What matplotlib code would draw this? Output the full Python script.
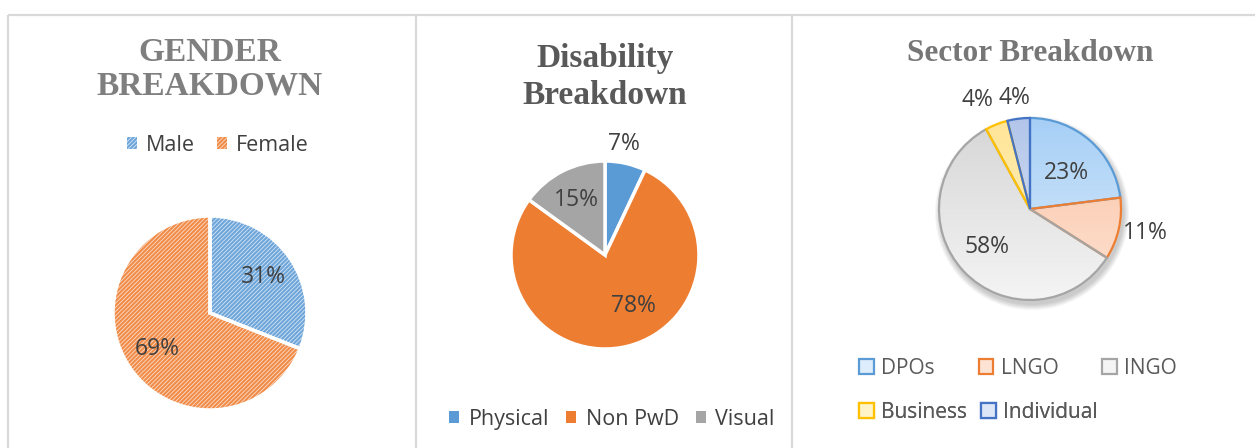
import numpy as np
import matplotlib.pyplot as plt
from matplotlib.patches import Patch, Circle
from matplotlib.colors import LinearSegmentedColormap

# chart data
gender_labels = ['Male', 'Female']
gender_values = [31, 69]

disability_labels = ['Physical', 'Non PwD', 'Visual']
disability_values = [7, 78, 15]

sector_labels = ['DPOs', 'LNGO', 'INGO', 'Business', 'Individual']
sector_values = [23, 11, 58, 4, 4]

W, H = 1255, 448
plt.rcParams['font.family'] = ['Open Sans', 'DejaVu Sans']
plt.rcParams['hatch.linewidth'] = 1.5

fig = plt.figure(figsize=(W / 100, H / 100), dpi=100)
ax = fig.add_axes([0, 0, 1, 1])

TXT = '#404040'
SERIF = ['Liberation Serif', 'DejaVu Serif']
LBL = 16.5


def py(y):
    # pixel row (from top) -> data y
    return H - y


def place_labels(wedges, values, cx, cy, r, dist, shift, size=LBL):
    for w, v, d, s in zip(wedges, values, dist, shift):
        th = np.radians((w.theta1 + w.theta2) / 2 + s)
        ax.text(cx + r * d * np.cos(th), cy + r * d * np.sin(th), f'{v}%',
                ha='center', va='center', fontsize=size, color=TXT)


def add_legend(handles, labels, anchor, **kw):
    opts = dict(loc='center', bbox_to_anchor=anchor, bbox_transform=ax.transData,
                ncol=len(labels), frameon=False, fontsize=15.5,
                handlelength=0.45, handleheight=0.45, handletextpad=0.45,
                borderpad=0, labelcolor=TXT)
    opts.update(kw)
    leg = ax.legend(handles, labels, **opts)
    ax.add_artist(leg)
    return leg


# panel frames
kw = dict(color='#d9d9d9', lw=1.6, solid_capstyle='butt')
ax.plot([8, W], [py(14.5), py(14.5)], **kw)
for x in (8, 416, 792):
    ax.plot([x, x], [py(14.5), 0], **kw)

# ---------- gender ----------
cx, cy, r = 210, py(313), 97
g_face = ['#d3e3f4', '#fbdac6']
g_hatch = ['#6ea6da', '#f08c48']
wedges, _ = ax.pie(gender_values, center=(cx, cy), radius=r, startangle=90,
                   counterclock=False, colors=g_face,
                   wedgeprops=dict(linewidth=0, hatch='////////'))
for w, hc in zip(wedges, g_hatch):
    w.set_edgecolor(hc)
    w.set_linewidth(0)
ax.pie(gender_values, center=(cx, cy), radius=r, startangle=90,
       counterclock=False, colors=['none', 'none'],
       wedgeprops=dict(linewidth=2.5, edgecolor='white'))
place_labels(wedges, gender_values, cx, cy, r, [0.66, 0.66], [0, 0])

ax.text(cx, py(52), 'GENDER', ha='center', va='center', fontsize=24,
        fontweight='bold', family=SERIF, color='#7f7f7f')
ax.text(cx, py(86), 'BREAKDOWN', ha='center', va='center', fontsize=24,
        fontweight='bold', family=SERIF, color='#7f7f7f')
handles = [Patch(facecolor=f, edgecolor=h, hatch='////////', linewidth=0)
           for f, h in zip(g_face, g_hatch)]
add_legend(handles, gender_labels, (cx + 8, py(145)), columnspacing=1.0)

# ---------- disability ----------
cx, cy, r = 605, py(255), 94
d_colors = ['#5b9bd5', '#ed7d31', '#a5a5a5']
wedges, _ = ax.pie(disability_values, center=(cx, cy), radius=r, startangle=90,
                   counterclock=False, colors=d_colors,
                   wedgeprops=dict(linewidth=2.5, edgecolor='white'))
place_labels(wedges, disability_values, cx, cy, r, [1.2, 0.62, 0.66], [3, 15, 0])

ax.text(cx, py(77), 'Disability\nBreakdown', ha='center', va='center',
        fontsize=24, fontweight='bold', family=SERIF, color='#595959',
        linespacing=1.25)
handles = [Patch(facecolor=c) for c in d_colors]
add_legend(handles, disability_labels, (cx + 7, py(419)), columnspacing=0.8)

# ---------- sector ----------
cx, cy, r = 1030, py(209), 91
s_edge = ['#5b9bd5', '#ed7d31', '#a5a5a5', '#ffc000', '#4472c4']
s_top = ['#deedfb', '#fde3d4', '#f4f4f4', '#fff4c8', '#dde6f6']
s_bot = ['#a6cff6', '#fbc2a3', '#d6d6d6', '#ffe597', '#b3c6ea']

# soft shadow
for k in range(6):
    ax.add_patch(Circle((cx + 2, cy - 4), r + 1 + k, color='#000000',
                        alpha=0.035, lw=0, zorder=0.5))
ax.add_patch(Circle((cx, cy), r, color='white', lw=0, zorder=0.6))

wedges, _ = ax.pie(sector_values, center=(cx, cy), radius=r, startangle=90,
                   counterclock=False, colors=s_top,
                   wedgeprops=dict(linewidth=1.6, zorder=2))
grad = np.linspace(0, 1, 200).reshape(-1, 1)
for w, ec, c0, c1 in zip(wedges, s_edge, s_top, s_bot):
    w.set_edgecolor(ec)
    w.set_facecolor('none')
    cm = LinearSegmentedColormap.from_list('g', [c0, c1])
    im = ax.imshow(grad, cmap=cm, extent=[cx - r, cx + r, cy + r, cy - r],
                   origin='upper', zorder=1, aspect='auto')
    im.set_clip_path(w)
place_labels(wedges, sector_values, cx, cy, r,
             [0.57, 1.29, 0.63, 1.33, 1.23], [-4, 1, -2, 4, 1])

ax.text(cx, py(53), 'Sector Breakdown', ha='center', va='center', fontsize=22.5,
        fontweight='bold', family=SERIF, color='#767676')
handles = [Patch(facecolor=t, edgecolor=e, linewidth=1.6)
           for t, e in zip(s_top, s_edge)]
sk = dict(loc='center left', handlelength=0.7, handleheight=0.7,
          handletextpad=0.35, labelcolor='#595959', fontsize=15)
add_legend(handles[:3], sector_labels[:3], (849, py(368)), columnspacing=2.1, **sk)
add_legend(handles[3:], sector_labels[3:], (849, py(412)), columnspacing=0.68, **sk)

ax.set_xlim(0, W)
ax.set_ylim(0, H)
ax.set_aspect('equal')
ax.axis('off')
fig.savefig('out.png', dpi=100)
